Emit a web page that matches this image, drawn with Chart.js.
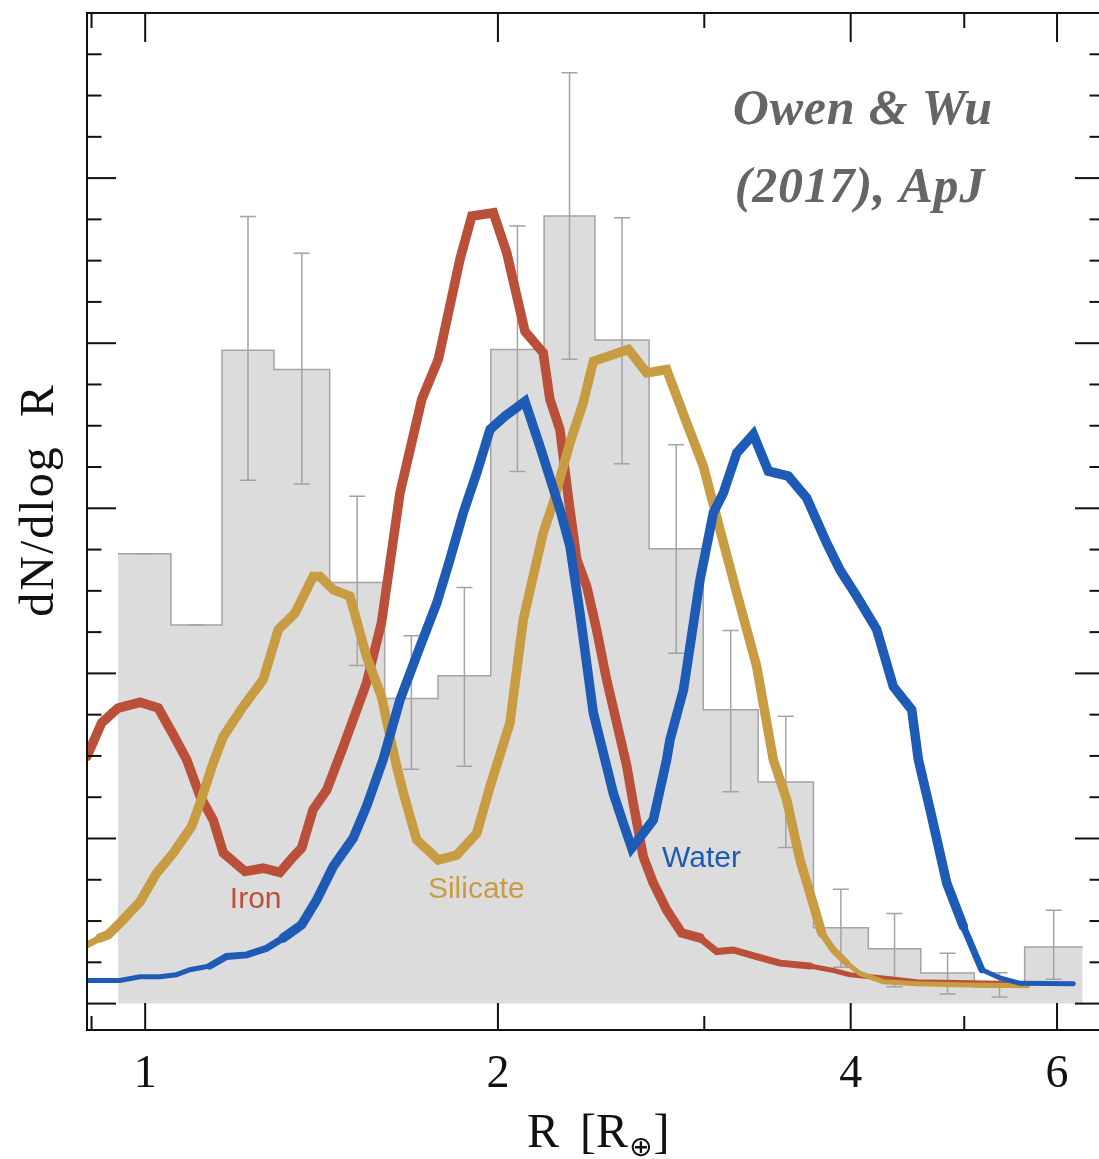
<!DOCTYPE html>
<html>
<head>
<meta charset="utf-8">
<script src="https://cdn.jsdelivr.net/npm/chart.js@4/dist/chart.umd.min.js"></script>
<style>
html,body{margin:0;padding:0;overflow:hidden;background:#ffffff;}
#wrap{width:1099px;height:1159px;overflow:hidden;position:relative;}
canvas{display:block;}
</style>
</head>
<body>
<div id="wrap"><canvas id="c" width="1110" height="1159"></canvas></div>
<script>
// ---------- data ----------
// histogram: bin edges in R [R_earth], heights in dN/dlogR (arbitrary units)
const binEdges  = [0.948,1.052,1.163,1.288,1.437,1.601,1.778,1.972,2.190,2.420,2.692,2.994,3.335,3.718,4.141,4.591,5.10,5.63,6.31];
const binCounts = [10.90,9.17,15.83,15.36,10.20,7.39,7.94,15.85,19.08,16.08,11.02,7.12,5.37,1.84,1.33,0.74,0.40,1.37];
const errHigh   = [10.90,9.17,19.07,18.18,12.29,8.91,10.08,18.84,22.55,19.04,13.54,9.04,6.96,2.77,2.18,1.22,0.75,2.26];
const errLow    = [10.90,9.17,12.68,12.59,8.19,5.68,5.75,12.89,15.61,13.08,8.49,5.13,3.78,0.88,0.41,0.23,0.16,0.59];

// model curves
const ironR = [0.892,0.918,0.948,0.990,1.026,1.057,1.085,1.114,1.143,1.166,1.185,1.217,1.261,1.303,1.338,1.360,1.391,1.429,1.476,1.545,1.591,1.650,1.722,1.779,1.856,1.900,1.982,2.035,2.109,2.186,2.215,2.259,2.296,2.335,2.381,2.428,2.476,2.526,2.576,2.609,2.661,2.714,2.786,2.870,2.975,3.074,3.176,3.325,3.481,3.692,3.866,3.995,4.264,4.555,5.364,5.579];
const ironY = [5.99,6.80,7.16,7.30,7.16,6.51,5.91,5.02,4.45,3.65,3.48,3.20,3.28,3.18,3.56,3.77,4.70,5.18,6.23,7.77,9.23,12.38,14.64,15.61,18.03,19.08,19.16,18.19,16.29,15.77,14.64,13.91,12.29,10.76,10.11,9.06,7.85,6.80,5.76,4.86,3.56,2.92,2.27,1.71,1.59,1.26,1.30,1.14,0.98,0.91,0.80,0.70,0.62,0.53,0.49,0.48];

const silR = [0.892,0.915,0.930,0.9515,0.990,1.0227,1.057,1.0955,1.114,1.143,1.166,1.2125,1.261,1.299,1.3423,1.391,1.4097,1.447,1.4951,1.545,1.591,1.634,1.661,1.7046,1.779,1.8446,1.9187,1.9693,2.0478,2.1019,2.1858,2.2295,2.3041,2.365,2.4125,2.5842,2.6791,2.786,2.898,2.9944,3.094,3.1976,3.3253,3.4356,3.5271,3.6209,3.692,3.7787,3.866,3.9694,4.0738,4.265,4.555,5.0245,5.667];
const silY = [1.42,1.59,1.67,1.95,2.47,3.16,3.65,4.29,4.86,5.83,6.47,7.20,7.85,9.06,9.46,10.35,10.35,10.03,9.87,8.41,7.44,5.91,5.10,3.97,3.48,3.60,4.13,5.26,6.80,9.30,11.40,12.13,13.59,14.56,15.56,15.85,15.28,15.36,14.07,13.02,11.48,9.95,8.17,5.91,4.94,3.48,2.68,1.71,1.30,0.98,0.73,0.53,0.48,0.45,0.43];

const watR = [0.892,0.9515,0.990,1.0293,1.0636,1.0918,1.1356,1.1734,1.2208,1.2695,1.3118,1.360,1.4007,1.447,1.505,1.545,1.5961,1.650,1.7162,1.774,1.820,1.8682,1.9187,1.9693,2.0277,2.1091,2.1722,2.2594,2.3041,2.3496,2.4125,2.4926,2.5087,2.5585,2.6014,2.6612,2.714,2.7861,2.8046,2.8797,2.975,3.0539,3.1143,3.1976,3.3035,3.4024,3.5384,3.6688,3.8153,3.9164,4.048,4.2102,4.3496,4.5096,4.5688,4.6753,4.8306,4.9912,5.1753,5.364,5.579,6.195];
const watY = [0.56,0.56,0.65,0.65,0.70,0.82,0.91,1.14,1.18,1.34,1.59,1.91,2.51,3.32,4.01,4.78,5.91,7.36,8.65,9.71,10.76,11.89,12.86,13.91,14.23,14.59,13.50,11.97,11.08,9.46,7.04,5.42,5.10,4.37,3.77,4.13,4.45,5.91,6.39,7.60,10.27,11.89,12.37,13.34,13.79,12.90,12.78,12.25,11.16,10.51,9.87,9.06,7.68,7.12,5.91,4.70,2.92,1.87,0.82,0.62,0.49,0.48];

// axis ticks
const xTickLabels = [1, 2, 4, 6];
const xMinorTicks = [0.9, 3, 5];
const yMajorStep = 4;
const yTickMax = 24;

// ---------- styles ----------
const IRON = '#bb503a', SIL = '#c89c43', WAT = '#1e5bb6';
const SERIF = '"Liberation Serif", "Times New Roman", serif';
const SANS = '"Liberation Sans", Arial, sans-serif';

function pts(xa, ya) {
  if (xa.length !== ya.length) console.error('length mismatch', xa.length, ya.length);
  return xa.map((x, i) => ({x: x, y: ya[i]}));
}
const histPts = binCounts.map((v, i) => ({x: binEdges[i], y: v}));
histPts.push({x: binEdges[binEdges.length - 1], y: binCounts[binCounts.length - 1]});

const segWidth = (ctx) => {
  const m = (ctx.p0.parsed.y + ctx.p1.parsed.y) / 2;
  return m < 0.9 ? 5 : (m < 1.6 ? 7 : 9.5);
};

const deco = {
  id: 'deco',
  afterDatasetDraw(chart, args) {
    if (args.index !== 0) return;
    const xs = chart.scales.x, ys = chart.scales.y, c = chart.ctx;
    c.save();
    c.strokeStyle = '#a3a3a3';
    c.lineWidth = 1.5;
    binCounts.forEach((v, i) => {
      const xc = xs.getPixelForValue(Math.sqrt(binEdges[i] * binEdges[i + 1]));
      const y1 = ys.getPixelForValue(errLow[i]);
      const y2 = ys.getPixelForValue(errHigh[i]);
      c.beginPath();
      c.moveTo(xc, y1); c.lineTo(xc, y2);
      c.moveTo(xc - 8, y1); c.lineTo(xc + 8, y1);
      c.moveTo(xc - 8, y2); c.lineTo(xc + 8, y2);
      c.stroke();
    });
    c.restore();
  },
  afterDraw(chart) {
    const xs = chart.scales.x, ys = chart.scales.y, c = chart.ctx, a = chart.chartArea;
    c.save();
    // frame
    c.strokeStyle = '#111';
    c.lineWidth = 2;
    c.strokeRect(a.left, a.top, a.right - a.left, a.bottom - a.top);
    // ticks
    const seg = (x1, y1, x2, y2) => { c.beginPath(); c.moveTo(x1, y1); c.lineTo(x2, y2); c.stroke(); };
    xTickLabels.forEach(v => { const p = xs.getPixelForValue(v); seg(p, a.bottom, p, a.bottom - 27); seg(p, a.top, p, a.top + 29); });
    xMinorTicks.forEach(v => { const p = xs.getPixelForValue(v); seg(p, a.bottom, p, a.bottom - 14); seg(p, a.top, p, a.top + 15); });
    for (let v = 0; v < yTickMax; v++) {
      const p = ys.getPixelForValue(v);
      const L = (v % yMajorStep === 0) ? 29 : 14.5;
      seg(a.left, p, a.left + L, p);
      seg(a.right, p, a.right - L, p);
    }
    // x tick labels
    c.fillStyle = '#111';
    c.font = '46px ' + SERIF;
    c.textAlign = 'center';
    c.textBaseline = 'alphabetic';
    xTickLabels.forEach(v => c.fillText(String(v), xs.getPixelForValue(v), a.bottom + 57));
    // x title  R [R_⊕]
    c.textAlign = 'left';
    c.font = '48px ' + SERIF;
    let x = 527;
    const by = 1147;
    c.fillText('R', x, by); x += c.measureText('R').width + 21;
    c.fillText('[R', x, by); x += c.measureText('[R').width + 1;
    c.font = '28px "DejaVu Sans", sans-serif';
    c.fillText('\u2295', x, by + 9); x += c.measureText('\u2295').width + 1;
    c.font = '48px ' + SERIF;
    c.fillText(']', x, by);
    // y title
    c.save();
    c.translate(53, 500);
    c.rotate(-Math.PI / 2);
    c.textAlign = 'center';
    c.font = '48px ' + SERIF;
    try { c.letterSpacing = '2px'; } catch (e) {}
    c.fillText('dN/dlog  R', 0, 0);
    c.restore();
    // citation
    c.fillStyle = '#656565';
    c.font = 'italic bold 50px ' + SERIF;
    c.textAlign = 'left';
    try { c.letterSpacing = '0.8px'; } catch (e) {}
    c.fillText('Owen & Wu', xs.getPixelForValue(3.173), ys.getPixelForValue(21.32));
    c.fillText('(2017), ApJ', xs.getPixelForValue(3.185), ys.getPixelForValue(19.41));
    try { c.letterSpacing = '0px'; } catch (e) {}
    // curve labels
    c.font = '30px ' + SANS;
    c.fillStyle = IRON; c.fillText('Iron', xs.getPixelForValue(1.181), ys.getPixelForValue(2.32));
    c.fillStyle = SIL;  c.fillText('Silicate', xs.getPixelForValue(1.743), ys.getPixelForValue(2.56));
    c.fillStyle = WAT;  c.fillText('Water', xs.getPixelForValue(2.761), ys.getPixelForValue(3.31));
    c.restore();
  }
};

const lineDefaults = {
  type: 'line', pointRadius: 0, fill: false, clip: 0, tension: 0,
  borderCapStyle: 'round', borderJoinStyle: 'miter', borderWidth: 9.5
};

new Chart(document.getElementById('c'), {
  type: 'line',
  data: {
    datasets: [
      { label: 'Observed', data: histPts, type: 'line', stepped: true, borderColor: '#a4a4a4', borderWidth: 1.5,
        backgroundColor: '#dcdcdc', fill: 'origin', pointRadius: 0, order: 3, clip: 0 },
      Object.assign({}, lineDefaults, { label: 'Iron', data: pts(ironR, ironY), borderColor: IRON, segment: {borderWidth: segWidth}, order: 2 }),
      Object.assign({}, lineDefaults, { label: 'Silicate', data: pts(silR, silY), borderColor: SIL, segment: {borderWidth: segWidth}, order: 1 }),
      Object.assign({}, lineDefaults, { label: 'Water', data: pts(watR, watY), borderColor: WAT, segment: {borderWidth: segWidth}, order: 0 })
    ]
  },
  options: {
    responsive: false,
    animation: false,
    parsing: true,
    layout: { padding: { top: 13, right: 6, bottom: 0, left: 0 } },
    plugins: { legend: { display: false }, tooltip: { enabled: false } },
    scales: {
      x: { type: 'logarithmic', min: 0.892, max: 6.58, position: 'bottom',
           grid: { display: false }, border: { display: false },
           ticks: { display: false },
           afterFit: (s) => { s.height = 129; } },
      y: { type: 'linear', min: -0.64, max: 24,
           grid: { display: false }, border: { display: false },
           ticks: { display: false },
           afterFit: (s) => { s.width = 87; } }
    }
  },
  plugins: [deco]
});
</script>
</body>
</html>
